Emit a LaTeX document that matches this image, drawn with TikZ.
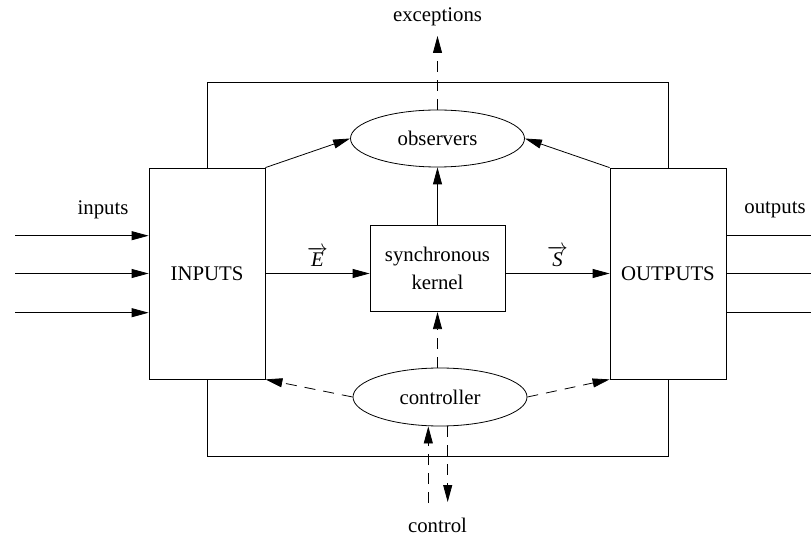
\documentclass[tikz,border=0pt]{standalone}
\usepackage{fontspec}
\setmainfont{Liberation Serif}
\usetikzlibrary{arrows.meta,shapes.geometric}
\begin{document}
\begin{tikzpicture}[x=1pt,y=-1pt, line width=0.8pt,
  every node/.style={font=\fontsize{20.8}{25}\selectfont},
  box/.style={draw,fill=white,rectangle,inner sep=0pt},
  ell/.style={draw,fill=white,ellipse,inner sep=0pt,minimum width=174pt,minimum height=57pt},
  arr/.style={-{Triangle[length=17pt,width=9pt]}},
  dsh/.style={dash pattern=on 11pt off 8pt}]
\useasboundingbox (0,0) rectangle (811,537);
% outer frame
\draw (207,82) rectangle (668,456);
% boxes
\node[box,minimum width=116pt,minimum height=211pt] (in) at (207,273.5) {INPUTS};
\node[box,minimum width=116pt,minimum height=211pt] (out) at (668,273.5) {OUTPUTS};
\node[box,minimum width=135pt,minimum height=86pt,align=center,font=\fontsize{20.8}{28}\selectfont] (k) at (437.5,268.7) {synchronous\\kernel};
\node[ell] (obs) at (437.5,138.5) {observers};
\node[ell,minimum height=58pt] (ctl) at (440,397) {controller};
% labels
\node (exc) at (437.5,17) {exceptions};
\node (ctltxt) at (437.5,525) {control};
\node (inl) at (103,210) {inputs};
\node (outl) at (775,210) {outputs};
% coordinates
\coordinate (excend) at (437.5,36);
\coordinate (i1) at (15,235.7);
\coordinate (i2) at (15,273.5);
\coordinate (i3) at (15,312.7);
\coordinate (o1) at (811,235.7);
\coordinate (o2) at (811,273.5);
\coordinate (o3) at (811,312.7);
\coordinate (cin) at (428.3,503);
\coordinate (cout) at (447.7,502);
% inputs / outputs
\foreach \c in {i1,i2,i3} \draw[arr] (\c) -- (\c -| in.west);
\foreach \c in {o1,o2,o3} \draw (\c -| out.east) -- (\c);
% main flow
\draw[arr] (in.east) -- (in.east -| k.west) node[midway,above=3pt] {$\overrightarrow{\textit{E}}$};
\draw[arr] (k.east |- out.west) -- (out.west) node[midway,above=3pt] {$\overrightarrow{\textit{S}}$};
\draw[arr] (k.north) -- (obs.south);
\draw[arr] (in.north east) -- (obs.west);
\draw[arr] (out.north west) -- (obs.east);
\draw[arr,dsh] (obs.north) -- (excend);
% controller
\draw[arr,dsh] (k.south |- ctl.north) -- (k.south);
\draw[arr,dsh] (ctl.west) -- (in.south east);
\draw[arr,dsh] (ctl.east) -- (out.south west);
\draw[arr,dsh] (cin) -- (cin |- ctl.south);
\draw[arr,dsh] (cout |- ctl.south) -- (cout);
\end{tikzpicture}
\end{document}
